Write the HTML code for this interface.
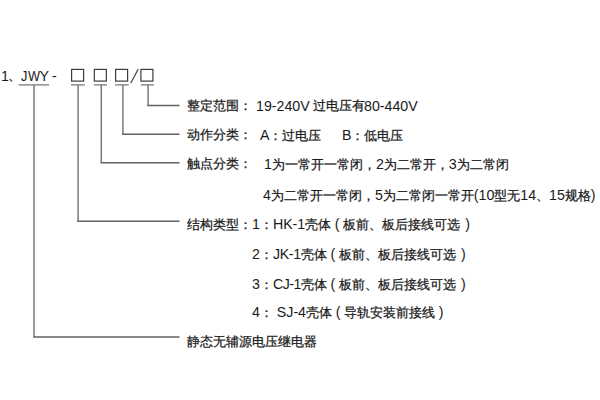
<!DOCTYPE html>
<html><head><meta charset="utf-8">
<style>
html,body{margin:0;padding:0;background:#fff;}
body{width:600px;height:400px;position:relative;overflow:hidden;font-family:"Liberation Sans",sans-serif;font-size:13.4px;color:#1a1a1a;}
.t{position:absolute;white-space:pre;line-height:16px;-webkit-text-stroke:0.25px #1a1a1a;}
.L{font-size:14.2px;-webkit-text-stroke:0;}
.p{display:inline-block;width:12px;text-align:center;font-size:14.2px;-webkit-text-stroke:0;}
</style></head><body>
<div class="t L" style="left:1px;top:68px">1</div>
<div class="t" style="left:8px;top:68px">、</div>
<div class="t L" style="left:21px;top:68px;transform:scaleX(0.9);transform-origin:0 0">J</div><div class="t L" style="left:27.5px;top:68px;transform:scaleX(0.9);transform-origin:0 0">W</div><div class="t L" style="left:39.5px;top:68px">Y</div>
<div class="t L" style="left:52px;top:68px">-</div>
<svg style="position:absolute;left:0;top:0" width="600" height="400"><rect x="71.6" y="69.4" width="12" height="11.7" fill="none" stroke="#3c3c3c" stroke-width="1.2"/><rect x="94.35" y="69.4" width="12" height="11.7" fill="none" stroke="#3c3c3c" stroke-width="1.2"/><rect x="115.6" y="69.4" width="12" height="11.7" fill="none" stroke="#3c3c3c" stroke-width="1.2"/><rect x="140.9" y="69.4" width="12" height="11.7" fill="none" stroke="#3c3c3c" stroke-width="1.2"/><line x1="18.7" y1="84.9" x2="49" y2="84.9" stroke="#858585" stroke-width="1.4"/><line x1="71" y1="84.9" x2="84.8" y2="84.9" stroke="#858585" stroke-width="1.4"/><line x1="93.8" y1="84.9" x2="107" y2="84.9" stroke="#858585" stroke-width="1.4"/><line x1="115.2" y1="84.9" x2="128.8" y2="84.9" stroke="#858585" stroke-width="1.4"/><line x1="140.9" y1="84.9" x2="153.8" y2="84.9" stroke="#858585" stroke-width="1.4"/><line x1="34" y1="84.9" x2="34" y2="337" stroke="#7a7a7a" stroke-width="1.5"/><line x1="33.25" y1="337" x2="179.5" y2="337" stroke="#606060" stroke-width="1.5"/><line x1="78.1" y1="84.9" x2="78.1" y2="221.3" stroke="#7a7a7a" stroke-width="1.5"/><line x1="77.35" y1="221.3" x2="179.5" y2="221.3" stroke="#606060" stroke-width="1.5"/><line x1="101.3" y1="84.9" x2="101.3" y2="162.7" stroke="#7a7a7a" stroke-width="1.5"/><line x1="100.55" y1="162.7" x2="179.5" y2="162.7" stroke="#606060" stroke-width="1.5"/><line x1="122.9" y1="84.9" x2="122.9" y2="134.25" stroke="#7a7a7a" stroke-width="1.5"/><line x1="122.15" y1="134.25" x2="179.5" y2="134.25" stroke="#606060" stroke-width="1.5"/><line x1="148.1" y1="84.9" x2="148.1" y2="105.4" stroke="#7a7a7a" stroke-width="1.5"/><line x1="147.35" y1="105.4" x2="179.5" y2="105.4" stroke="#606060" stroke-width="1.5"/><line x1="130.7" y1="83.2" x2="138.2" y2="69.1" stroke="#4a4a4a" stroke-width="1.2"/></svg>

<div class="t" style="left:187px;top:98px">整定范围：</div>
<div class="t L" style="left:256px;top:98px">19-240V</div>
<div class="t" style="left:313px;top:98px">过电压有</div>
<div class="t L" style="left:364px;top:98px">80-440V</div>

<div class="t" style="left:187px;top:127px">动作分类：</div>
<div class="t" style="left:260px;top:127px"><span class="L">A</span>：过电压</div>
<div class="t" style="left:342px;top:127px"><span class="L">B</span>：低电压</div>

<div class="t" style="left:187px;top:156px">触点分类：</div>
<div class="t" style="left:264px;top:156px"><span class="L">1</span>为一常开一常闭，<span class="L">2</span>为二常开，<span class="L">3</span>为二常闭</div>

<div class="t" style="left:263px;top:187px"><span class="L">4</span>为二常开一常闭，<span class="L">5</span>为二常闭一常开<span class="L">(10</span>型无<span class="L">14</span>、<span class="L">15</span>规格<span class="L">)</span></div>

<div class="t" style="left:187px;top:216px">结构类型：<span class="L">1</span>：<span class="L">HK-1</span>壳体<span class="p">(</span>板前、板后接线可选<span class="p" style="width:15px">)</span></div>
<div class="t" style="left:252px;top:246px"><span class="L">2</span>：<span class="L" style="letter-spacing:-0.3px">JK-1</span>壳体<span class="p">(</span>板前、板后接线可选<span class="p" style="width:15px">)</span></div>
<div class="t" style="left:252px;top:276px"><span class="L">3</span>：<span class="L" style="letter-spacing:-0.5px">CJ-1</span>壳体<span class="p">(</span>板前、板后接线可选<span class="p" style="width:15px">)</span></div>
<div class="t" style="left:252px;top:304px"><span class="L">4</span>：<span class="L"> SJ-4</span>壳体<span class="p">(</span>导轨安装前接线<span class="p">)</span></div>
<div class="t" style="left:187px;top:334px">静态无辅源电压继电器</div>
</body></html>
